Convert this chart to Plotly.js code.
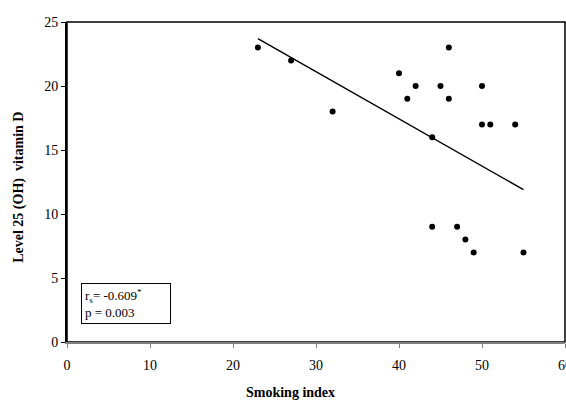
<!DOCTYPE html>
<html>
<head>
<meta charset="utf-8">
<script src="https://cdn.plot.ly/plotly-3.0.1.min.js"></script>
<style>html,body{margin:0;padding:0;background:#fff;}#chart{width:566px;height:401px;}</style>
</head>
<body>
<div id="chart"></div>
<script>
const smokingIndex = [23, 27, 32, 40, 41, 42, 44, 44, 45, 46, 46, 47, 48, 49, 50, 50, 51, 54, 55];
const vitaminD     = [23, 22, 18, 21, 19, 20, 16, 9, 20, 23, 19, 9, 8, 7, 20, 17, 17, 17, 7];
const trendX = [23, 55];
const trendY = [23.7, 11.9];
const xTicks = [0, 10, 20, 30, 40, 50, 60];
const yTicks = [0, 5, 10, 15, 20, 25];

const serif = "Liberation Serif, Times New Roman, serif";

const data = [
  {x: smokingIndex, y: vitaminD, type: 'scatter', mode: 'markers',
   marker: {color: '#000', size: 6}, hoverinfo: 'skip', cliponaxis: false},
  {x: trendX, y: trendY, type: 'scatter', mode: 'lines',
   line: {color: '#000', width: 1.5}, hoverinfo: 'skip'}
];

const layout = {
  width: 566, height: 401,
  margin: {l: 67, r: 1, t: 22, b: 59},
  paper_bgcolor: '#fff', plot_bgcolor: '#fff',
  showlegend: false,
  font: {family: serif, color: '#000', size: 14},
  xaxis: {
    range: [0, 60], tickvals: xTicks, ticktext: xTicks.map(String),
    showgrid: false, zeroline: false,
    showline: true, linecolor: '#808080', linewidth: 2,
    ticks: 'outside', ticklen: 4, tickcolor: '#808080', tickwidth: 1,
    ticklabelstandoff: 5, ticklabeloverflow: 'allow',
    tickfont: {family: serif, size: 14, color: '#000'}
  },
  yaxis: {
    range: [0, 25], tickvals: yTicks, ticktext: yTicks.map(String),
    showgrid: false, zeroline: false,
    showline: true, linecolor: '#000', linewidth: 2,
    ticks: 'outside', ticklen: 4, tickcolor: '#000', tickwidth: 1,
    ticklabeloverflow: 'allow',
    tickfont: {family: serif, size: 14, color: '#000'}
  },
  shapes: [
    {type: 'rect', xref: 'paper', yref: 'paper', x0: 0, x1: 1, y0: 0, y1: 1,
     line: {color: '#000', width: 1.5}, layer: 'below'}
  ],
  annotations: [
    {xref: 'paper', yref: 'paper', x: 0.028, y: 0.055, xanchor: 'left', yanchor: 'bottom',
     showarrow: false, align: 'left',
     text: 'r<sub>s</sub>= -0.609<sup>*</sup><br>p = 0.003',
     font: {family: serif, size: 13, color: '#000'},
     bordercolor: '#000', borderwidth: 1, borderpad: 3, bgcolor: '#fff', width: 82},
    {xref: 'paper', yref: 'paper', x: (290 - 67) / 498, y: -(392 - 341.7) / 320,
     xanchor: 'center', yanchor: 'middle', showarrow: false,
     text: '<b>Smoking index</b>', font: {family: serif, size: 14, color: '#000'}},
    {xref: 'paper', yref: 'paper', x: -(67 - 19) / 498, y: (341.7 - 187.5) / 320,
     xanchor: 'center', yanchor: 'middle', showarrow: false, textangle: -90,
     text: '<b>Level 25 (OH)  vitamin D</b>', font: {family: serif, size: 14, color: '#000'}}
  ]
};

Plotly.newPlot('chart', data, layout, {staticPlot: true, displayModeBar: false});
</script>
</body>
</html>
